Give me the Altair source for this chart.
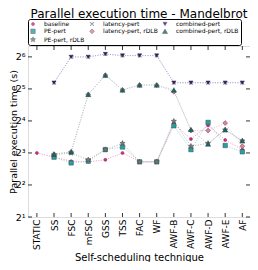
import json
import altair as alt
import pandas as pd

categories = ["STATIC", "SS", "FSC", "mFSC", "GSS", "TSS", "FAC", "WF",
              "AWF-B", "AWF-C", "AWF-D", "AWF-E", "AF"]
baseline = [8.0, 7.3, 6.7, 6.6, 6.9, 8.0, 6.6, 6.6, 15.2, 10.8, 14.5, 10.6, 8.6]
pe_pert = [None, 7.3, 6.45, 6.7, 8.6, 9.1, 6.6, 6.6, 14.4, 8.6, 15.5, 9.4, 8.2]
pe_pert_rdlb = [None, 7.7, 8.0, 6.9, 8.6, 9.85, 6.6, 6.6, 15.9, 9.25, 9.85, 13.2, 10.4]
latency_pert = [None, 36.6, 64, 64, 68, 65.8, 65.8, 65.8, 36.6, 36.6, 36.6, 36.6, 36.6]
latency_pert_rdlb = [None, 7.8, 8.2, 28.4, 43.1, 31.3, 34.8, 34.8, 30.1, 13.0, 13.0, 15.3, 9.25]
combined_pert = [None, 36.6, 64, 64, 68, 65.8, 65.8, 65.8, 36.6, 36.6, 36.6, 36.6, 36.6]
combined_pert_rdlb = [None, 7.8, 8.2, 28.4, 43.1, 31.3, 34.8, 34.8, 31.3, 13.3, 9.7, 13.2, 10.4]
y_ticks = [2, 4, 8, 16, 32, 64]

series_names = ["baseline", "PE-pert", "PE-pert, rDLB", "latency-pert",
                "latency-pert, rDLB", "combined-pert", "combined-pert, rDLB"]
series_values = dict(zip(series_names, [baseline, pe_pert, pe_pert_rdlb, latency_pert,
                                        latency_pert_rdlb, combined_pert,
                                        combined_pert_rdlb]))

# styles
STAR = ("M0,-1L0.265,-0.364L0.951,-0.309L0.428,0.139L0.588,0.809L0,0.45"
        "L-0.588,0.809L-0.428,0.139L-0.951,-0.309L-0.265,-0.364Z")
XMARK = ("M-1,-0.8L-0.8,-1L0,-0.2L0.8,-1L1,-0.8L0.2,0L1,0.8L0.8,1L0,0.2"
         "L-0.8,1L-1,0.8L-0.2,0Z")
style = {
    "baseline": ("#ff1493", "#ff6fb5", "circle", 9),
    "PE-pert": ("#22a3a3", "#7fcccc", "square", 34),
    "PE-pert, rDLB": ("#7a7a7a", "#a0a0a0", STAR, 42),
    "latency-pert": ("#9ec3ea", "#a8c4ec", XMARK, 30),
    "latency-pert, rDLB": ("#e2829c", "#f0a6bb", "diamond", 48),
    "combined-pert": ("#3b0f6e", "#9b90d8", "triangle-down", 36),
    "combined-pert, rDLB": ("#0e6a6a", "#8fcaca", "triangle-up", 36),
}
# order of the legend entries, laid out in three columns like the reference
legend_order = ["baseline", "latency-pert", "combined-pert", "PE-pert",
                "latency-pert, rDLB", "combined-pert, rDLB", "PE-pert, rDLB"]

rows = []
for s in series_names:
    for i, v in enumerate(series_values[s]):
        if v is not None:
            rows.append({"series": s, "idx": i, "tech": categories[i], "time": v,
                         "lc": style[s][1]})
df = pd.DataFrame(rows)

W, H = 222, 171
x_scale = alt.Scale(domain=[-0.52, 12.45], nice=False, zero=False)
y_scale = alt.Scale(type="log", base=2, domain=[2, 81], nice=False)

label_expr = json.dumps(categories) + "[datum.value]"
sup = json.dumps(["\u2070", "\u00b9", "\u00b2", "\u00b3", "\u2074", "\u2075", "\u2076"])
y_label_expr = "'2' + " + sup + "[round(log(datum.value)/log(2))]"

x_axis = alt.Axis(values=list(range(len(categories))), labelExpr=label_expr,
                  labelAngle=-90, labelFontSize=9, labelFont="DejaVu Sans",
                  labelColor="black", ticks=False, grid=False, domain=False,
                  labelPadding=2, title="Self-scheduling technique",
                  titleFont="DejaVu Sans", titleFontSize=10, titleFontWeight="normal",
                  titleColor="black", titleY=43, titleBaseline="alphabetic",
                  labelFlush=False, labelOverlap=False)
y_axis = alt.Axis(values=y_ticks, labelExpr=y_label_expr, labelFontSize=9.5,
                  labelFont="DejaVu Sans", labelColor="black", ticks=False,
                  grid=False, domain=False, labelPadding=3,
                  title="Parallel execution time (s)", titleFont="DejaVu Sans",
                  titleFontSize=9.5, titleFontWeight="normal", titleColor="black",
                  titleX=-12, titleY=H / 2, titleBaseline="alphabetic", titleAngle=-90)

X = alt.X("idx:Q", scale=x_scale, axis=x_axis)
Y = alt.Y("time:Q", scale=y_scale, axis=y_axis)

lines = alt.Chart(df).mark_line(strokeDash=[1, 1.5], strokeWidth=1, opacity=0.8).encode(
    x=X, y=Y,
    color=alt.Color("lc:N", scale=None),
    detail="series:N",
    order="idx:Q",
)

points = alt.Chart(df).mark_point(filled=True, opacity=1, stroke="#444",
                                  strokeWidth=0.5).encode(
    x=X, y=Y,
    color=alt.Color("series:N",
                    scale=alt.Scale(domain=legend_order,
                                    range=[style[s][0] for s in legend_order]),
                    legend=alt.Legend(orient="none", legendX=0, legendY=-27,
                                      columns=3, direction="horizontal",
                                      values=legend_order,
                                      strokeColor="black", padding=2,
                                      labelFontSize=6, labelFont="DejaVu Sans",
                                      labelColor="black", symbolSize=26,
                                      rowPadding=0.3, columnPadding=3, labelOffset=8,
                                      title=None, symbolStrokeColor="#444",
                                      symbolStrokeWidth=0.5, cornerRadius=2,
                                      fillColor="white")),
    shape=alt.Shape("series:N",
                    scale=alt.Scale(domain=legend_order,
                                    range=[style[s][2] for s in legend_order])),
    size=alt.Size("series:N",
                  scale=alt.Scale(domain=legend_order,
                                  range=[style[s][3] for s in legend_order]),
                  legend=None),
)

xt = pd.DataFrame({"idx": list(range(len(categories)))})
yt = pd.DataFrame({"time": y_ticks})
tick_kw = dict(color="black", strokeWidth=0.8)
top_ticks = alt.Chart(xt).mark_rule(**tick_kw).encode(
    x=X, y=alt.value(0), y2=alt.value(4))
bot_ticks = alt.Chart(xt).mark_rule(**tick_kw).encode(
    x=X, y=alt.value(H), y2=alt.value(H - 4))
left_ticks = alt.Chart(yt).mark_rule(**tick_kw).encode(
    y=Y, x=alt.value(0), x2=alt.value(4))
right_ticks = alt.Chart(yt).mark_rule(**tick_kw).encode(
    y=Y, x=alt.value(W), x2=alt.value(W - 4))

chart = alt.layer(lines, points, top_ticks, bot_ticks, left_ticks, right_ticks).properties(
    width=W, height=H,
    title=alt.TitleParams("Parallel execution time - Mandelbrot", fontSize=12,
                          font="DejaVu Sans", fontWeight="normal", anchor="middle",
                          color="black", offset=-2),
    autosize=alt.AutoSizeParams(type="none"),
    padding={"left": 20, "top": 38, "right": 0, "bottom": 45},
).configure_view(stroke="black", strokeWidth=1).configure(background="white")

chart.save("out.html", embed_options={"renderer": "svg", "actions": False})
